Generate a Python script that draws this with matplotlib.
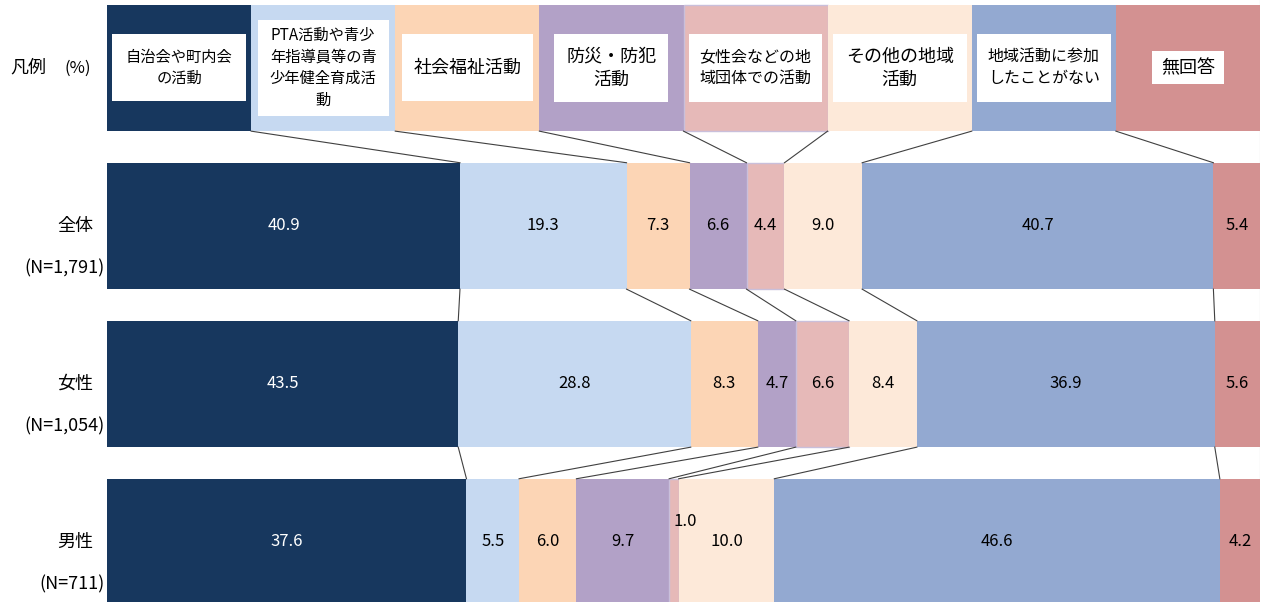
import matplotlib.pyplot as plt
import numpy as np
from matplotlib.patches import Rectangle
from matplotlib.transforms import blended_transform_factory

plt.rcParams['font.family'] = ['Noto Sans CJK JP', 'DejaVu Sans']

# 回答項目（凡例の表示用に改行済み）
legend_labels = [
    '自治会や町内会\nの活動',
    'PTA活動や青少\n年指導員等の青\n少年健全育成活\n動',
    '社会福祉活動',
    '防災・防犯\n活動',
    '女性会などの地\n域団体での活動',
    'その他の地域\n活動',
    '地域活動に参加\nしたことがない',
    '無回答',
]
legend_sizes = [11, 11, 13, 13, 11.5, 13, 11.5, 13]
# 凡例の白枠の大きさ（px）
box_w = [134, 131, 131, 114, 133, 134, 134, 72]
box_h = [67, 96, 67, 68, 68, 68, 68, 33]

groups = ['全体', '女性', '男性']
group_n = ['(N=1,791)', '(N=1,054)', '(N=711)']

values_all = [40.9, 19.3, 7.3, 6.6, 4.4, 9.0, 40.7, 5.4]
values_female = [43.5, 28.8, 8.3, 4.7, 6.6, 8.4, 36.9, 5.6]
values_male = [37.6, 5.5, 6.0, 9.7, 1.0, 10.0, 46.6, 4.2]

colors = ['#17375E', '#C6D9F1', '#FCD5B5', '#B2A1C7',
          '#E6B9B8', '#FDE9D9', '#93A9D1', '#D39191']
edges = ['none', 'none', 'none', 'none', '#C9BFDB', 'none', 'none', 'none']

BAR_H = 0.8
PX_X = 1153   # 横軸 0〜1 のピクセル幅
PX_Y = 158    # 縦軸 1 単位のピクセル高さ

fig = plt.figure(figsize=(12.64, 6.02), dpi=100)
ax = fig.add_axes([107 / 1264, 0, PX_X / 1264, 1])
ax.set_xlim(0, 1)
ax.set_ylim(3.38, -0.43)
ax.axis('off')

# 右端の枠線
ax.axvline(1.0, color='#C0C0C0', lw=0.8, zorder=0)

# 凡例の行（等幅の8区分）
n = len(legend_labels)
leg_w = np.full(n, 1 / n)
leg_left = np.cumsum(leg_w) - leg_w
ax.barh(0, leg_w, left=leg_left, height=BAR_H, color=colors,
        edgecolor=edges, linewidth=1)
for x, lab, fs, bw, bh in zip(leg_left + leg_w / 2, legend_labels,
                              legend_sizes, box_w, box_h):
    w, h = bw / PX_X, bh / PX_Y
    ax.add_patch(Rectangle((x - w / 2, -h / 2), w, h, fc='white',
                           ec='none', zorder=3))
    ax.text(x, 0, lab, ha='center', va='center', fontsize=fs,
            linespacing=1.35, zorder=4)

# 各属性の帯グラフ（100%に正規化）
boundaries = [np.cumsum(leg_w)[:-1]]
for row, vals in enumerate([values_all, values_female, values_male], start=1):
    vals = np.array(vals)
    frac = vals / vals.sum()
    left = np.cumsum(frac) - frac
    ax.barh(row, frac, left=left, height=BAR_H, color=colors,
            edgecolor=edges, linewidth=1)
    boundaries.append(np.cumsum(frac)[:-1])
    for k, (x0, w, v) in enumerate(zip(left, frac, vals)):
        xc, yc = x0 + w / 2, row
        if w * PX_X < 20:
            xc += 0.0095
            yc -= 0.13
        ax.text(xc, yc, f'{v:.1f}', ha='center', va='center', fontsize=12,
                color='white' if k == 0 else 'black')

# 区分線
for i in range(3):
    for b0, b1 in zip(boundaries[i], boundaries[i + 1]):
        ax.plot([b0, b1], [i + BAR_H / 2, i + 1 - BAR_H / 2],
                color='#404040', lw=0.8, zorder=3)

# 左側の見出し
tr = blended_transform_factory(fig.transFigure, ax.transData)
ax.text(10 / 1264, 0, '凡例', transform=tr, ha='left', va='center', fontsize=13)
ax.text(65 / 1264, 0, '(%)', transform=tr, ha='left', va='center', fontsize=12)
for row, (g, nlab) in enumerate(zip(groups, group_n), start=1):
    ax.text(93 / 1264, row, g, transform=tr, ha='right', va='center',
            fontsize=13)
    ax.text(105 / 1264, row + 0.27, nlab, transform=tr, ha='right',
            va='center', fontsize=13)

fig.savefig('out.png', dpi=100, facecolor='white')
